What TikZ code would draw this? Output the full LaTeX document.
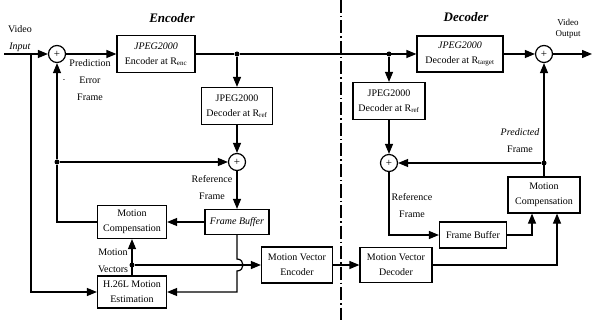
\documentclass[tikz,border=0pt]{standalone}
\usepackage{fontspec}
\setmainfont{Liberation Serif}
\usetikzlibrary{arrows.meta,positioning,calc}

\begin{document}
\begin{tikzpicture}[x=1pt, y=-1pt,
    blk/.style={draw, line width=1.2pt, align=center, inner sep=1pt, font=\fontsize{10}{15}\selectfont},
    addr/.style={draw, circle, line width=1.2pt, minimum size=17pt, inner sep=0pt, font=\fontsize{11}{12}\selectfont},
    lbl/.style={align=center, inner sep=0pt, font=\fontsize{10}{17}\selectfont},
    sig/.style={line width=1.2pt, -{Triangle[length=10pt,width=8pt]}},
    wire/.style={line width=1.2pt},
    jdot/.style={circle, fill, inner sep=0pt, minimum size=5pt}]
    \useasboundingbox (0,0) rectangle (593,320);

    % Titles and split line
    \node[font=\fontsize{13}{15}\selectfont\bfseries\itshape] (enctitle) at (172,18) {Encoder};
    \node[font=\fontsize{13}{15}\selectfont\bfseries\itshape] (dectitle) at (466,17) {Decoder};
    \coordinate (splittop) at (341,0);
    \coordinate (splitbot) at (341,320);
    \draw[line width=1.2pt, dash pattern=on 13pt off 3pt on 1.5pt off 3pt] (splittop) -- (splitbot);

    % Encoder blocks
    \node[blk, minimum width=78pt, minimum height=37pt] (enc) at (156,54) {\textit{JPEG2000}\\Encoder at R\textsubscript{enc}};
    \node[blk, minimum width=71pt, minimum height=37pt] (erref) at (237,106) {JPEG2000\\Decoder at R\textsubscript{ref}};
    \node[blk, minimum width=64pt, minimum height=25pt] (efb) at (237,222) {\textit{Frame Buffer}};
    \node[blk, minimum width=69pt, minimum height=33pt] (emc) at (132,222) {Motion\\Compensation};
    \node[blk, minimum width=69pt, minimum height=32pt] (eme) at (132,292) {H.26L Motion\\Estimation};
    \node[blk, minimum width=71pt, minimum height=36pt] (mve) at (297,265) {Motion Vector\\Encoder};

    % Decoder blocks
    \node[blk, minimum width=86pt, minimum height=36pt] (dtgt) at (460,54) {\textit{JPEG2000}\\Decoder at R\textsubscript{target}};
    \node[blk, minimum width=72pt, minimum height=37pt] (drref) at (389,101) {JPEG2000\\Decoder at R\textsubscript{ref}};
    \node[blk, minimum width=72pt, minimum height=35pt] (mvd) at (396,265) {Motion Vector\\Decoder};
    \node[blk, minimum width=67pt, minimum height=26pt] (dfb) at (473,235) {Frame Buffer};
    \node[blk, minimum width=72pt, minimum height=36pt] (dmc) at (544,195) {Motion\\Compensation};

    % Adders
    \node[addr] (a1) at (57,54) {+};
    \node[addr] (a2) at (237,162) {+};
    \node[addr] (a3) at (389,163) {+};
    \node[addr] (a4) at (544,54) {+};

    % Junctions
    \node[jdot] (j1) at (237,54) {};
    \node[jdot] (j2) at (389,54) {};
    \node[jdot] (j3) at (57,162) {};
    \node[jdot] (j4) at (132,265) {};
    \node[jdot] (j6) at (544,163) {};

    % Labels
    \node[lbl] (vin) at (20,39) {Video\\\textit{Input}};
    \node[lbl] (pef) at (90,80) {Prediction\\Error\\Frame};
    \node[font=\scriptsize] (minus) at (64,81) {-};
    \node[lbl] (eref) at (212,188) {Reference\\Frame};
    \node[lbl] (mvec) at (113,261) {Motion\\Vectors};
    \node[lbl] (dref) at (412,206) {Reference\\Frame};
    \node[lbl] (pfr) at (520,141) {\textit{Predicted}\\Frame};
    \node[lbl, font=\fontsize{9}{11}\selectfont] (vout) at (568,29) {Video\\Output};

    % Encoder connectors
    \coordinate (vinstart) at (4,54);
    \coordinate (vinsplit) at (31,54);
    \coordinate (vinlow) at (31,292);
    \draw[sig] (vinstart) -- (a1);
    \draw[sig] (vinsplit) -- (vinlow) -- (eme.west);
    \draw[sig] (a1) -- (enc);
    \draw[wire] (enc) -- (j1);
    \draw[sig] (j1) -- (dtgt);
    \draw[sig] (j1) -- (erref);
    \draw[sig] (erref) -- (a2);
    \draw[sig] (a2) -- (efb);
    \coordinate (mcleft) at (57,222);
    \draw[wire] (emc.west) -- (mcleft) -- (j3);
    \draw[sig] (j3) -- (a1);
    \draw[sig] (j3) -- (a2);
    \draw[sig] (efb) -- (emc);
    \draw[sig] (eme) -- (emc);
    \draw[sig] (j4) -- (mve);
    \coordinate (hopa) at (237,259);
    \coordinate (hopb) at (237,271);
    \coordinate (fblow) at (237,292);
    \draw[sig] (efb.south) -- (hopa) .. controls (245,259) and (245,271) .. (hopb) -- (fblow) -- (eme.east);
    \draw[sig] (mve) -- (mvd);

    % Decoder connectors
    \draw[sig] (j2) -- (drref);
    \draw[sig] (drref) -- (a3);
    \coordinate (dleft) at (389,235);
    \draw[sig] (a3) -- (dleft) -- (dfb);
    \coordinate (fbout) at (532,235);
    \draw[sig] (dfb) -- (fbout) -- (fbout |- dmc.south);
    \coordinate (mvout) at (557,265);
    \draw[sig] (mvd) -- (mvout) -- (mvout |- dmc.south);
    \draw[sig] (dmc) -- (a4);
    \draw[sig] (j6) -- (a3);
    \draw[sig] (dtgt) -- (a4);
    \coordinate (voutend) at (592,54);
    \draw[sig] (a4) -- (voutend);
\end{tikzpicture}
\end{document}
